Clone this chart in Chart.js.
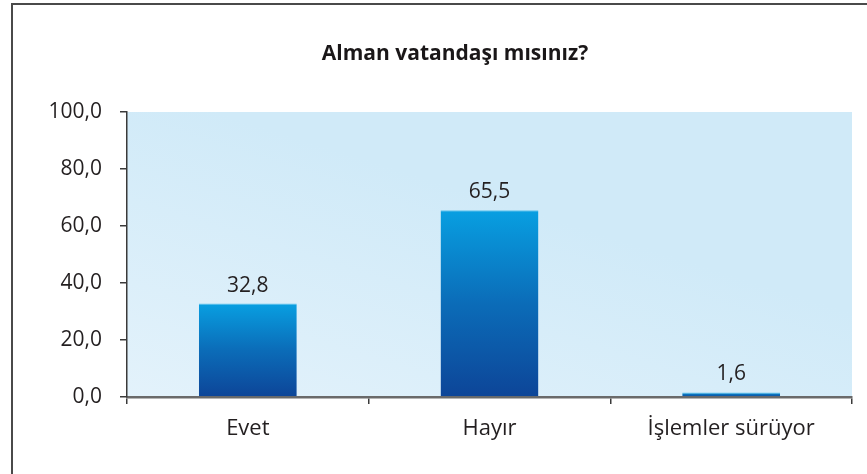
<!DOCTYPE html>
<html>
<head>
<meta charset="utf-8">
<script src="https://cdn.jsdelivr.net/npm/chart.js@4.4.1/dist/chart.umd.min.js"></script>
<style>
    html, body { margin: 0; padding: 0; background: #fff; }
    #chart-container { position: relative; width: 867px; height: 474px; }
</style>
</head>
<body>
<div id="chart-container"><canvas id="citizen-chart"></canvas></div>
<script>
const chartTitle = 'Alman vatandaşı mısınız?';
const categories = ['Evet', 'Hayır', 'İşlemler sürüyor'];
const percentages = [32.8, 65.5, 1.6];
const yTicks = [0, 20, 40, 60, 80, 100];

const fontFamily = '"Open Sans", "DejaVu Sans", sans-serif';
const textColor = '#231f20';

function formatComma(value, digits) {
    return value.toFixed(digits).replace('.', ',');
}

// background, frame, title and value labels
const decorPlugin = {
    id: 'decor',
    beforeDraw(chart) {
        let ctx = chart.ctx;
        let area = chart.chartArea;
        ctx.save();
        let bg = ctx.createLinearGradient(area.left, area.bottom, area.left + 90, area.top);
        bg.addColorStop(0, '#e3f2fb');
        bg.addColorStop(1, '#d0eaf8');
        ctx.fillStyle = bg;
        ctx.fillRect(area.left, area.top, area.right - area.left, area.bottom - area.top);

        ctx.strokeStyle = '#4a4a4a';
        ctx.lineWidth = 2;
        ctx.beginPath();
        ctx.moveTo(12, 474);
        ctx.lineTo(12, 4);
        ctx.lineTo(867, 4);
        ctx.stroke();

        ctx.fillStyle = '#1a1718';
        ctx.font = 'bold 21px ' + fontFamily;
        ctx.textAlign = 'center';
        ctx.textBaseline = 'alphabetic';
        ctx.fillText(chartTitle, 455, 60);
        ctx.restore();
    },
    afterDatasetsDraw(chart) {
        let ctx = chart.ctx;
        let meta = chart.getDatasetMeta(0);
        ctx.save();
        ctx.fillStyle = textColor;
        ctx.font = '21px ' + fontFamily;
        ctx.textAlign = 'center';
        ctx.textBaseline = 'alphabetic';
        meta.data.forEach((bar, i) => {
            ctx.fillText(formatComma(percentages[i], 1), bar.x, bar.y - 12);
        });
        ctx.restore();
    }
};

// each bar fades from light blue at its top to dark blue at the base
function barGradient(context) {
    let chart = context.chart;
    let area = chart.chartArea;
    if (!area || context.dataIndex === undefined) return '#0a6fc0';
    let top = chart.scales.y.getPixelForValue(percentages[context.dataIndex]);
    if (area.bottom - top < 1) top = area.bottom - 1;
    let g = chart.ctx.createLinearGradient(0, top, 0, area.bottom);
    g.addColorStop(0, '#089fe1');
    g.addColorStop(0.5, '#0b6cb8');
    g.addColorStop(1, '#0d4598');
    return g;
}

new Chart(document.getElementById('citizen-chart'), {
    type: 'bar',
    data: {
        labels: categories,
        datasets: [{
            data: percentages,
            backgroundColor: barGradient,
            borderColor: '#5cc3ee',
            borderWidth: { top: 1, left: 0, right: 0, bottom: 0 },
            borderSkipped: false,
            categoryPercentage: 1,
            barPercentage: 0.405
        }]
    },
    options: {
        responsive: true,
        maintainAspectRatio: false,
        animation: false,
        layout: {
            padding: { top: 112, right: 15, bottom: 0, left: 0 }
        },
        scales: {
            x: {
                offset: true,
                grid: {
                    offset: true,
                    drawOnChartArea: false,
                    color: '#3a3a3a',
                    tickLength: 7,
                    lineWidth: 1.5
                },
                border: { color: '#6a6a6a', width: 2.5 },
                ticks: {
                    color: textColor,
                    font: { family: fontFamily, size: 22 },
                    padding: 12,
                    maxRotation: 0
                },
                afterFit: function(scale) { scale.height = 77; }
            },
            y: {
                min: 0,
                max: 100,
                afterBuildTicks: function(scale) {
                    scale.ticks = yTicks.map(v => ({ value: v }));
                },
                grid: {
                    drawOnChartArea: false,
                    color: '#3a3a3a',
                    tickLength: 7,
                    lineWidth: 1.5
                },
                border: { color: '#3a3a3a', width: 1.5 },
                ticks: {
                    color: textColor,
                    font: { family: fontFamily, size: 21 },
                    padding: 18,
                    callback: function(value) { return formatComma(value, 1); }
                },
                afterFit: function(scale) { scale.width = 127; }
            }
        },
        plugins: {
            legend: { display: false },
            tooltip: { enabled: false },
            title: { display: false }
        }
    },
    plugins: [decorPlugin]
});
</script>
</body>
</html>
